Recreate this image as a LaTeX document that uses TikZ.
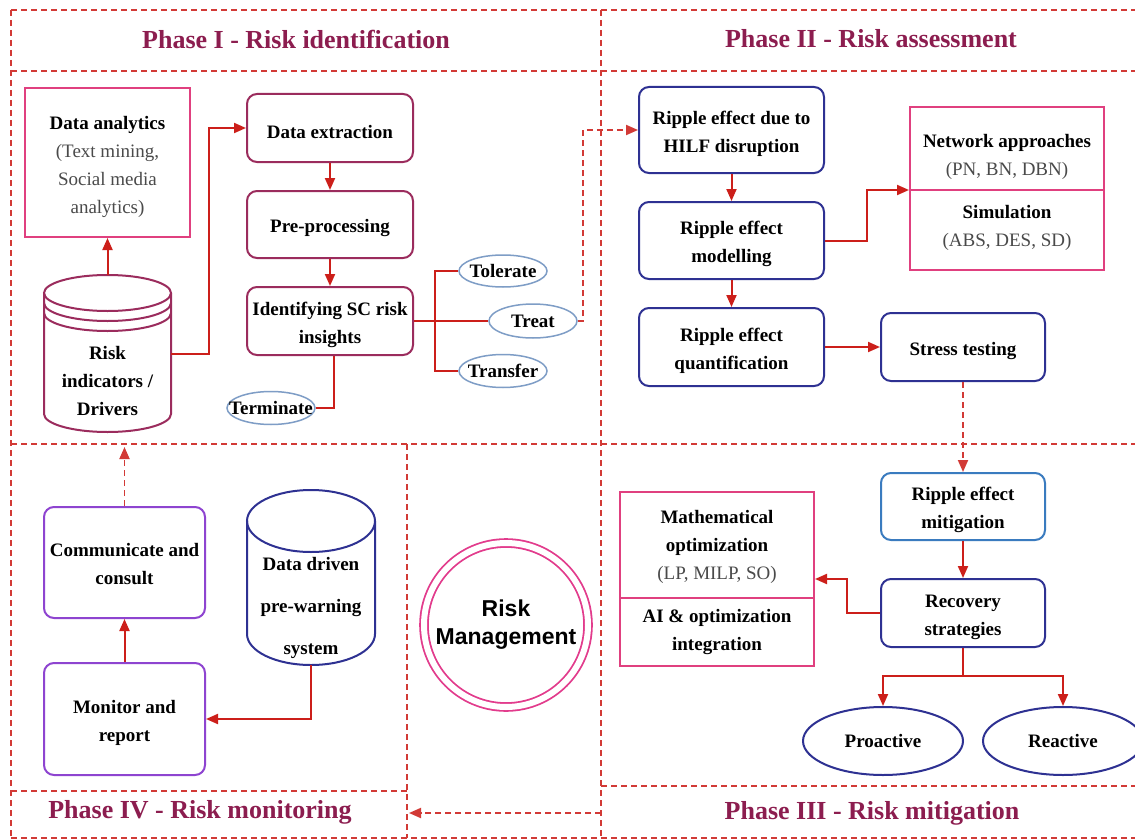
\documentclass[tikz,border=0pt]{standalone}
\usepackage{fontspec}
\setmainfont{Liberation Serif}
\newfontfamily\sansf{Liberation Sans}
\usetikzlibrary{arrows.meta,shapes.geometric}
\definecolor{dashred}{HTML}{D23A36}
\definecolor{conred}{HTML}{CC1F1A}
\definecolor{titlec}{HTML}{8C1D4F}
\definecolor{p1c}{HTML}{9B2C5D}
\definecolor{pinkc}{HTML}{E0407F}
\definecolor{ellc}{HTML}{7E9DC6}
\definecolor{navyc}{HTML}{2E3192}
\definecolor{bluec}{HTML}{3A7BBF}
\definecolor{violc}{HTML}{8E44D0}
\definecolor{rmc}{HTML}{E23B8C}
\definecolor{greyt}{HTML}{4A4A4A}
\newcommand{\greytxt}[1]{{\mdseries\color{greyt}#1}}
\newcommand{\fstrut}{\rule{0pt}{21pt}}
\begin{document}
\begin{tikzpicture}[x=1pt,y=-1pt,
  nfont/.style={font=\fontsize{19}{28}\selectfont\bfseries},
  dline/.style={draw=dashred, line width=1.9pt, dash pattern=on 6pt off 4pt},
  con/.style={draw=conred, line width=2pt},
  arr/.style={con, -{Triangle[length=12pt,width=10pt]}},
  darr/.style={dline, -{Triangle[length=12pt,width=10pt]}, color=dashred},
  rbox/.style={draw, rounded corners=10pt, line width=2pt, inner sep=0pt, align=center, nfont},
  p1box/.style={rbox, draw=p1c, minimum width=166, minimum height=68},
  p2box/.style={rbox, draw=navyc},
  p4box/.style={rbox, draw=violc},
  sqbox/.style={draw=pinkc, line width=2pt, inner sep=0pt, align=center, nfont},
  pinkline/.style={draw=pinkc, line width=2pt},
  txt/.style={inner sep=0pt, align=center, nfont},
  elab/.style={inner sep=0pt, nfont},
  ellB/.style={ellipse, draw=ellc, line width=1.5pt, inner sep=0pt},
  ellN/.style={ellipse, draw=navyc, line width=2pt, inner sep=0pt},
  ttl/.style={inner sep=0pt, text=titlec, font=\fontsize{26}{30}\selectfont\bfseries},
  p1line/.style={draw=p1c, line width=2pt},
  navyline/.style={draw=navyc, line width=2pt}
]
\useasboundingbox (0,0) rectangle (1135,840);
\fill[white] (0,0) rectangle (1135,840);

% ---------- dashed frame ----------
\draw[dline] (11,10) -- (1140,10);
\draw[dline] (11,71) -- (1140,71);
\draw[dline] (11,444) -- (1140,444);
\draw[dline] (11,838) -- (1140,838);
\draw[dline] (11,10) -- (11,838);
\draw[dline] (601,10) -- (601,838);
\draw[dline] (407,444) -- (407,838);
\draw[dline] (11,791) -- (407,791);
\draw[dline] (601,786) -- (1140,786);

% ---------- titles ----------
\node[ttl] (t1) at (296,39) {Phase I - Risk identification};
\node[ttl] (t2) at (871,39) {Phase II - Risk assessment};
\node[ttl] (t3) at (872,813) {Phase III - Risk mitigation};
\node[ttl] (t4) at (200,812) {Phase IV - Risk monitoring};

% ---------- Phase I ----------
\node[sqbox, minimum width=165, minimum height=149] (dan) at (107.5,162.5) {};
\node[txt] (dant) at (107.5,166.5)
  {Data analytics\\ \greytxt{(Text mining,}\\ \greytxt{Social media}\\ \greytxt{analytics)}};
\node[p1box] (dex) at (330,128) {\fstrut Data extraction};
\node[p1box, minimum height=67] (pre) at (330,224.5) {\fstrut Pre-processing};
\node[p1box] (ide) at (330,321) {\fstrut Identifying SC risk\\insights};

\node[ellB, minimum width=88, minimum height=32, label={[elab]center:Tolerate}] (tol) at (503,271) {};
\node[ellB, minimum width=88, minimum height=34, label={[elab]center:Treat}] (trt) at (533,321) {};
\node[ellB, minimum width=88, minimum height=33, label={[elab]center:Transfer}] (tra) at (503,371) {};
\node[ellB, minimum width=88, minimum height=33, label={[elab]center:Terminate}] (ter) at (271,408) {};

% Risk indicators cylinder
\node[inner sep=0pt, minimum width=127, minimum height=157] (risk) at (107.5,353.5) {};
\draw[p1line, fill=white] (44,293) -- (44,414) arc[start angle=180, end angle=0, x radius=63.5, y radius=18] -- (171,293);
\draw[p1line] (107.5,293) ellipse [x radius=63.5, y radius=18];
\draw[p1line] (44,303) arc[start angle=180, end angle=0, x radius=63.5, y radius=18];
\draw[p1line] (44,313) arc[start angle=180, end angle=0, x radius=63.5, y radius=18];
\node[txt] (rit) at (107.5,381) {Risk\\indicators /\\Drivers};

% Phase I connectors
\draw[arr] (risk.north) -- (dan.south);
\draw[arr] (risk.east) -- ++(38,0) |- (dex.west);
\draw[arr] (dex.south) -- (pre.north);
\draw[arr] (pre.south) -- (ide.north);
\coordinate (br) at (435,321);
\draw[con] (ide.east) -- (trt.west);
\draw[con] (br) |- (tol.west);
\draw[con] (br) |- (tra.west);
\draw[con] ([xshift=4pt]ide.south) |- (ter.east);

% ---------- Phase II ----------
\node[p2box, minimum width=185, minimum height=86] (hilf) at (731.5,130) {\fstrut Ripple effect due to\\HILF disruption};
\node[p2box, minimum width=185, minimum height=77] (mod) at (731.5,240.5) {\fstrut Ripple effect\\modelling};
\node[p2box, minimum width=185, minimum height=78] (qua) at (731.5,347) {\fstrut Ripple effect\\quantification};
\node[sqbox, minimum width=194, minimum height=163] (net) at (1007,188.5) {};
\draw[pinkline] ([yshift=-1.5pt]net.west) -- ([yshift=-1.5pt]net.east);
\node[txt] (neta) at (1007,157) {Network approaches\\ \greytxt{(PN, BN, DBN)}};
\node[txt] (netb) at (1007,227.5) {Simulation\\ \greytxt{(ABS, DES, SD)}};
\node[p2box, minimum width=164, minimum height=68] (str) at (963,347) {\fstrut Stress testing};

\draw[darr] (trt.east) -- ++(5,0) |- (hilf.west);
\draw[arr] (hilf.south) -- (mod.north);
\draw[arr] (mod.south) -- (qua.north);
\draw[arr] (mod.east) -- ++(42,0) |- ([yshift=-1.5pt]net.west);
\draw[arr] (qua.east) -- (str.west);

% ---------- Phase III ----------
\node[rbox, draw=bluec, minimum width=164, minimum height=67] (mit) at (963,506.5) {\fstrut Ripple effect\\mitigation};
\node[p2box, minimum width=164, minimum height=68] (rec) at (963,613) {\fstrut Recovery\\strategies};
\node[sqbox, minimum width=194, minimum height=174] (mat) at (717,579) {};
\draw[pinkline] ([yshift=-19pt]mat.west) -- ([yshift=-19pt]mat.east);
\node[txt] (mata) at (717,547) {Mathematical\\optimization\\ \greytxt{(LP, MILP, SO)}};
\node[txt] (matb) at (717,631.5) {AI \& optimization\\integration};
\node[ellN, minimum width=160, minimum height=68, label={[elab]center:Proactive}] (pro) at (883,741) {};
\node[ellN, minimum width=160, minimum height=68, label={[elab]center:Reactive}] (rea) at (1063,741) {};

\draw[darr] (str.south) -- (mit.north);
\draw[arr] (mit.south) -- (rec.north);
\draw[arr] (rec.west) -- ++(-33,0) |- (mat.east);
\coordinate (rb) at (963,676);
\draw[con] (rec.south) -- (rb);
\draw[arr] (rb) -| (pro.north);
\draw[arr] (rb) -| (rea.north);

% ---------- Phase IV ----------
\node[p4box, minimum width=161, minimum height=111] (com) at (124.5,562.5) {\rule{0pt}{17pt}Communicate and\\consult};
\node[p4box, minimum width=161, minimum height=112] (mon) at (124.5,719) {\fstrut Monitor and\\report};
\node[inner sep=0pt, minimum width=128, minimum height=175] (dd) at (311,577.5) {};
\draw[navyline] (247,521) -- (247,634) arc[start angle=180, end angle=0, x radius=64, y radius=31] -- (375,521);
\draw[navyline] (311,521) ellipse [x radius=64, y radius=31];
\node[txt, font=\fontsize{19}{42}\selectfont\bfseries] (ddt) at (311,608) {Data driven\\pre-warning\\system};

\draw[arr] (dd.south) |- (mon.east);
\draw[arr] (mon.north) -- (com.south);
\coordinate (upend) at (124.5,447);
\draw[darr] (com.north) -- (upend);
\coordinate (p3a) at (601,813);
\coordinate (p4a) at (409,813);
\draw[darr] (p3a) -- (p4a);

% ---------- Risk management ----------
\node[circle, draw=rmc, double, double distance=6pt, line width=1.8pt, minimum size=164, inner sep=0pt,
  font=\sansf\bfseries\fontsize{23}{28}\selectfont, align=center] (rm) at (506,625) {Risk\\Management};
\end{tikzpicture}
\end{document}
